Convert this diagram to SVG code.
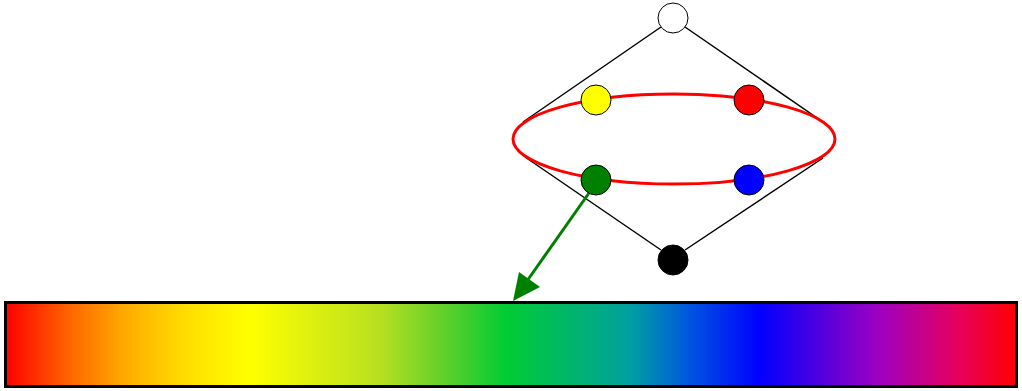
<svg xmlns="http://www.w3.org/2000/svg" width="1022" height="391" viewBox="0 0 1022 391">
<defs>
<linearGradient id="spec" x1="0" y1="0" x2="1" y2="0">
<stop offset="0" stop-color="#ff0000"/>
<stop offset="0.064" stop-color="#ff6600"/>
<stop offset="0.123" stop-color="#ffb000"/>
<stop offset="0.182" stop-color="#ffe000"/>
<stop offset="0.242" stop-color="#ffff00"/>
<stop offset="0.37" stop-color="#b8e020"/>
<stop offset="0.43" stop-color="#66d02a"/>
<stop offset="0.495" stop-color="#00cc33"/>
<stop offset="0.618" stop-color="#00a0a0"/>
<stop offset="0.677" stop-color="#0055e0"/>
<stop offset="0.746" stop-color="#0000ff"/>
<stop offset="0.865" stop-color="#a000c0"/>
<stop offset="0.944" stop-color="#e8005a"/>
<stop offset="1" stop-color="#ff0000"/>
</linearGradient>
<style>
.node{stroke:#000;stroke-width:1}
.edge{stroke:#000;stroke-width:1.5;fill:none}
</style>
</defs>
<g id="connectors">
<path class="edge" d="M661,27 L523,122 M685,27 L823,122 M525,157 L661,250 M823,158 L685,250"/>
<ellipse cx="674" cy="139" rx="161" ry="45" fill="none" stroke="#ff0000" stroke-width="3"/>
<line x1="589" y1="193" x2="527" y2="281" stroke="#008000" stroke-width="3"/>
<path d="M513,301 L519,272 L540,287 z" fill="#008000"/>
</g>
<g id="white"><circle class="node" cx="673" cy="18" r="15" fill="#fff"/></g>
<g id="yellow"><circle class="node" cx="596" cy="100" r="15" fill="#ffff00"/></g>
<g id="red"><circle class="node" cx="749" cy="100" r="15" fill="#ff0000"/></g>
<g id="green"><circle class="node" cx="596" cy="180" r="15" fill="#008000"/></g>
<g id="blue"><circle class="node" cx="749" cy="180" r="15" fill="#0000ff"/></g>
<g id="black"><circle class="node" cx="673" cy="260" r="15" fill="#000"/></g>
<g id="spectrum"><rect x="5.5" y="302.5" width="1011" height="84" fill="url(#spec)" stroke="#000" stroke-width="3"/></g>
</svg>
